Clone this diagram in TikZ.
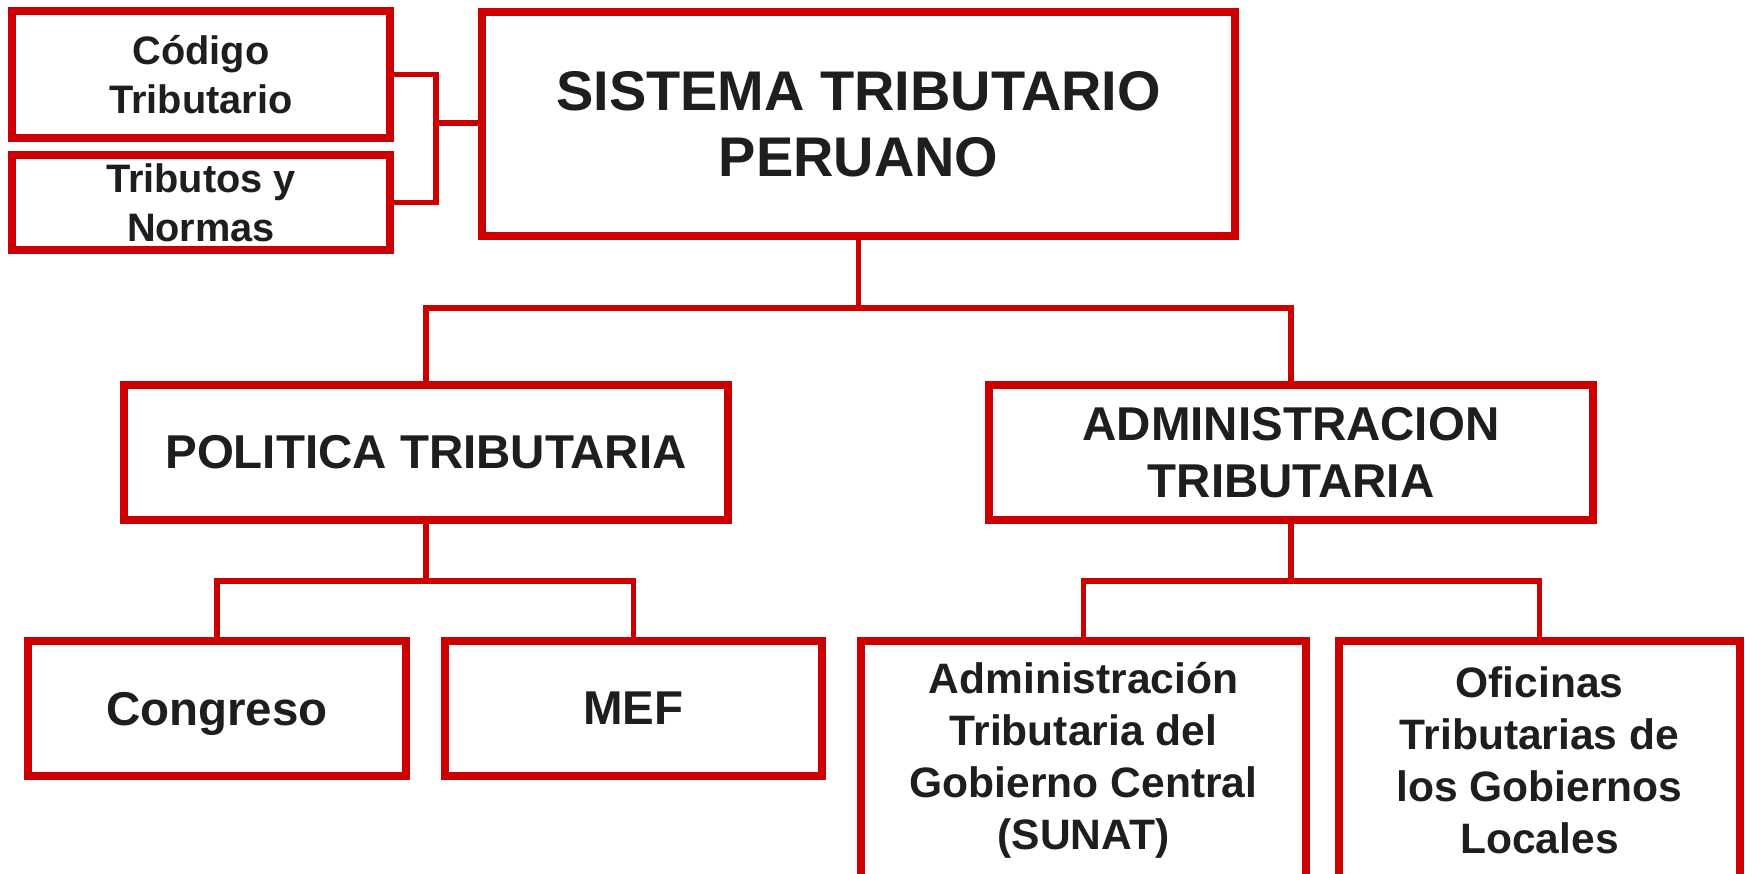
\documentclass[tikz,border=0pt]{standalone}
\usepackage{fontspec}
\setmainfont{Liberation Sans}
\definecolor{rojo}{HTML}{CC0000}
\definecolor{texto}{HTML}{1E1E1E}
\tikzset{
  caja/.style={draw=rojo, line width=2.3pt, fill=white, text=texto, align=center, inner sep=0pt},
  conn/.style={draw=rojo, line width=1.5pt},
}
\newcommand{\fuente}[2]{\fontsize{#1}{#2}\selectfont\bfseries}
\begin{document}
\begin{tikzpicture}[x=0.01cm, y=-0.01cm, line join=miter]
\useasboundingbox (0,0) rectangle (1745,874);
\clip (0,0) rectangle (1745,874);
% cajas superiores
\node[caja, minimum width=3.78cm, minimum height=1.27cm, font=\fuente{11.3}{13.9}] (cod) at (201,74.5) {Código\\Tributario};
\node[caja, minimum width=3.78cm, minimum height=0.95cm, font=\fuente{11.3}{13.9}] (trib) at (201,202.5) {Tributos y\\Normas};
\node[caja, minimum width=7.53cm, minimum height=2.23cm, font=\fuente{15.9}{18.7}] (sis) at (858.5,124) {SISTEMA TRIBUTARIO\\PERUANO};
% segundo nivel
\node[caja, minimum width=6.04cm, minimum height=1.35cm, font=\fuente{13.5}{16.2}] (pol) at (426,452.5) {POLITICA TRIBUTARIA};
\node[caja, minimum width=6.04cm, minimum height=1.35cm, font=\fuente{13.5}{16.2}] (adm) at (1291,452.5) {ADMINISTRACION\\TRIBUTARIA};
% tercer nivel
\node[caja, minimum width=3.78cm, minimum height=1.35cm, text depth=0pt, font=\fuente{13.5}{16.2}] (cong) at (217,708.5) {Congreso};
\node[caja, minimum width=3.77cm, minimum height=1.35cm, font=\fuente{13.5}{16.2}] (mef) at (633.5,708.5) {MEF};
\node[caja, minimum width=4.45cm, minimum height=2.39cm, font=\fuente{12.1}{14.8}] (sunat) at (1083.5,760.5) {Administración\\Tributaria del\\Gobierno Central\\(SUNAT)};
\node[caja, minimum width=4.01cm, minimum height=2.39cm, font=\fuente{12.1}{14.8}] (ofic) at (1539.5,760.5) {Oficinas\\Tributarias de\\los Gobiernos\\Locales};
% conectores
\coordinate (k) at (436,123);
\draw[conn] (cod.east) -| (k);
\draw[conn] (trib.east) -| (k);
\draw[conn] (k) -- (sis.west |- k);
\coordinate (j1) at (860,308);
\draw[conn] (sis.south) -- (sis.south |- j1);
\draw[conn] (pol.north) |- (j1) -| (adm.north);
\coordinate (j2) at (426,581);
\draw[conn] (pol.south) -- (j2);
\draw[conn] (cong.north) |- (j2) -| (mef.north);
\coordinate (j3) at (1291,581);
\draw[conn] (adm.south) -- (j3);
\draw[conn] (sunat.north) |- (j3) -| (ofic.north);
\end{tikzpicture}
\end{document}
